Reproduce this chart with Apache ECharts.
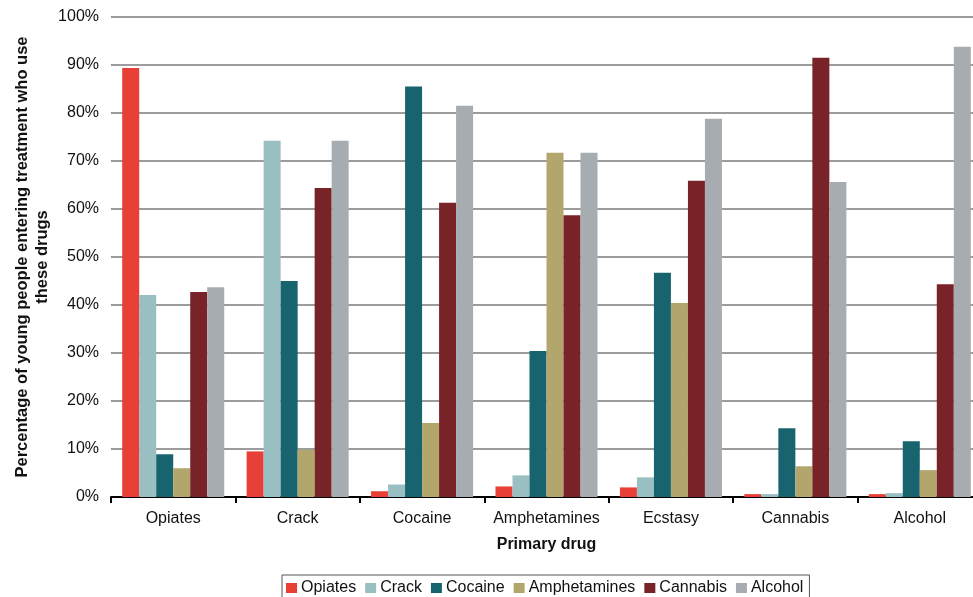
<!DOCTYPE html>
<html>
<head>
<meta charset="utf-8">
<script src="https://cdn.jsdelivr.net/npm/echarts@6/dist/echarts.min.js"></script>
<style>
  html, body { margin: 0; padding: 0; background: #fff; }
  #chart { width: 973px; height: 597px; }
</style>
</head>
<body>
<div id="chart"></div>
<script>
// Primary drug groups along the x axis
const categories = ['Opiates', 'Crack', 'Cocaine', 'Amphetamines', 'Ecstasy', 'Cannabis', 'Alcohol'];

// Share (%) of young people in each primary-drug group who also use each drug
const opiates      = [89.4, 9.5, 1.2, 2.2, 2.0, 0.6, 0.6];
const crack        = [42.1, 74.2, 2.6, 4.5, 4.1, 0.6, 0.8];
const cocaine      = [8.9, 45.0, 85.5, 30.4, 46.7, 14.3, 11.6];
const amphetamines = [6.0, 9.8, 15.4, 71.7, 40.4, 6.4, 5.6];
const cannabis     = [42.7, 64.4, 61.3, 58.7, 65.9, 91.5, 44.3];
const alcohol      = [43.7, 74.2, 81.5, 71.7, 78.8, 65.6, 93.8];

const seriesNames = ['Opiates', 'Crack', 'Cocaine', 'Amphetamines', 'Cannabis', 'Alcohol'];
const seriesData = [opiates, crack, cocaine, amphetamines, cannabis, alcohol];
const colors = ['#E84036', '#9ABFC3', '#17646E', '#B3A66C', '#782328', '#A6ACAF'];

const font = 'Liberation Sans, Arial, sans-serif';

const chart = echarts.init(document.getElementById('chart'), null, { renderer: 'canvas' });

chart.setOption({
  animation: false,
  color: colors,
  textStyle: { fontFamily: font },
  // the plot runs a little past the right edge of the canvas
  grid: { left: 111, top: 17, bottom: 100, right: -9, containLabel: false, outerBoundsMode: 'none' },
  legend: {
    data: seriesNames,
    left: 282,
    top: 575,
    icon: 'rect',
    itemWidth: 11,
    itemHeight: 10,
    itemGap: 9,
    padding: [5, 6, 8, 4],
    borderColor: '#555',
    borderWidth: 1,
    textStyle: { fontFamily: font, fontSize: 16, color: '#111', padding: [0, 0, 0, -1] }
  },
  xAxis: {
    type: 'category',
    data: categories,
    name: 'Primary drug',
    nameLocation: 'middle',
    nameGap: 40,
    nameMoveOverlap: false,
    nameTextStyle: { fontFamily: font, fontSize: 16, fontWeight: 'bold', color: '#111' },
    axisLine: { lineStyle: { color: '#000', width: 2 } },
    axisTick: { show: true, interval: 0, length: 6, lineStyle: { color: '#000', width: 2 } },
    axisLabel: { interval: 0, fontFamily: font, fontSize: 16, color: '#111', margin: 14 }
  },
  yAxis: {
    type: 'value',
    min: 0,
    max: 100,
    interval: 10,
    name: 'Percentage of young people entering treatment who use\nthese drugs',
    nameLocation: 'middle',
    nameGap: 59,
    nameMoveOverlap: false,
    nameTextStyle: { fontFamily: font, fontSize: 16.5, fontWeight: 'bold', color: '#111', lineHeight: 20 },
    axisLine: { show: false },
    axisTick: { show: false },
    axisLabel: { fontFamily: font, fontSize: 16, color: '#111', margin: 12, formatter: '{value}%' },
    splitLine: { lineStyle: { color: '#9c9c9c', width: 2 } }
  },
  series: seriesNames.map((name, i) => ({
    name: name,
    type: 'bar',
    data: seriesData[i],
    barGap: '0%',
    barCategoryGap: '18%',
    itemStyle: { color: colors[i] }
  }))
});
</script>
</body>
</html>
